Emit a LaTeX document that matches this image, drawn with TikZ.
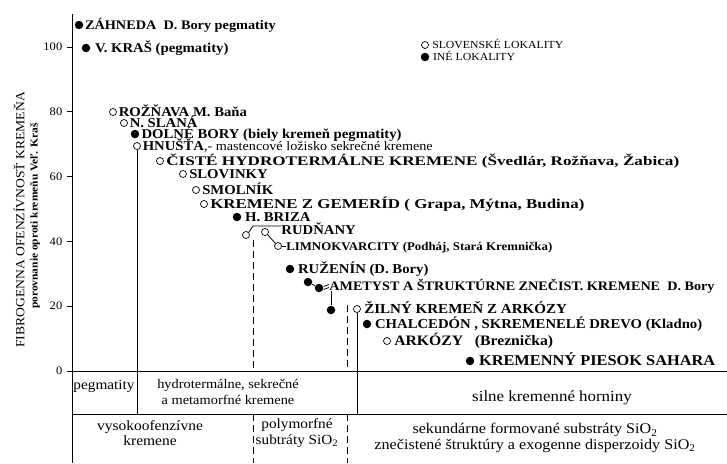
\documentclass[tikz,border=0pt]{standalone}
\usepackage{graphicx}
\usepackage{fontspec}
\setmainfont{Liberation Serif}[FakeStretch=1.09]
\usetikzlibrary{positioning}
\tikzset{
  slov/.style={circle,draw,line width=0.7pt,fill=white,inner sep=0pt,minimum size=7pt},
  ine/.style={circle,fill,inner sep=0pt,minimum size=8.5pt},
  lab/.style={inner sep=0pt,text height=9pt,text depth=0pt,font=\bfseries\fontsize{#1}{16}\selectfont},
  lab/.default=13.5,
  tab/.style={align=center,inner sep=0pt,font=\fontsize{#1}{15.5}\selectfont},
  tab/.default=14.5,
  rez/.style={dash pattern=on 7pt off 4pt,line width=0.7pt},
}
\begin{document}
\begin{tikzpicture}[x=1pt,y=-1pt,line width=0.8pt]
  \useasboundingbox (0,0) rectangle (727,463);
  % os a popis
  \draw[line width=1pt] (72,14) -- (72,463);
  \foreach \v in {20,40,...,100}
    \draw (67,{371-3.24*\v}) node[left=1pt,font=\fontsize{11.5}{12}\selectfont] (t\v) {\v} -- (72,{371-3.24*\v});
  \node[rotate=90,font=\fontsize{12.5}{13}\selectfont] (titul) at (19,220) {FIBROGENNA OFENZÍVNOSŤ KREMEŇA};
  \node[rotate=90,font=\bfseries\fontsize{10.5}{12}\selectfont] (podtitul) at (35,216) {porovnanie oproti kremeňu Veľ. Kraš};
  % lokality
  \node[ine] (zahneda) at (79,25) {};
  \node[lab=13.1,right=1pt of zahneda] (zahneda-t) {ZÁHNEDA\ \ D. Bory pegmatity};
  \node[ine] (kras) at (86,48) {};
  \node[lab,right=4pt of kras] (kras-t) {V. KRAŠ (pegmatity)};
  \node[slov] (roznava) at (113,112) {};
  \node[lab,right=1.5pt of roznava] (roznava-t) {ROŽŇAVA M. Baňa};
  \node[slov] (slana) at (124,123) {};
  \node[lab,right=1.5pt of slana] (slana-t) {N. SLANÁ};
  \node[ine] (dolne) at (135,134) {};
  \node[lab,right=1.5pt of dolne] (dolne-t) {DOLNÉ BORY (biely kremeň pegmatity)};
  \node[slov] (hnusta) at (137,146) {};
  \node[lab,right=1.5pt of hnusta] (hnusta-t) {HNUŠŤA{\mdseries\fontsize{13}{14}\selectfont,- mastencové ložisko sekrečné kremene}};
  \node[slov] (ciste) at (160,161) {};
  \node[lab=13.1,right=2pt of ciste] (ciste-t) {\scalebox{1.2}[1]{ČISTÉ HYDROTERMÁLNE KREMENE (Švedlár, Rožňava, Žabica)}};
  \node[slov] (slovinky) at (183,174) {};
  \node[lab,right=2pt of slovinky] (slovinky-t) {SLOVINKY};
  \node[slov] (smolnik) at (196,190) {};
  \node[lab,right=2pt of smolnik] (smolnik-t) {SMOLNÍK};
  \node[slov] (gemer) at (204,204) {};
  \node[lab,right=2pt of gemer] (gemer-t) {\scalebox{1.15}[1]{KREMENE Z GEMERÍD ( Grapa, Mýtna, Budina)}};
  \node[ine] (briza) at (237,217) {};
  \node[lab,right=3pt of briza] (briza-t) {H. BRIZA};
  \node[slov] (rud1) at (246,235) {};
  \node[slov] (rud2) at (265,232) {};
  \node[lab,anchor=west] (rud-t) at (281,230) {RUDŇANY};
  \node[slov] (limno) at (278,246) {};
  \node[lab=11.8,right=4pt of limno] (limno-t) {LIMNOKVARCITY (Podháj, Stará Kremnička)};
  \node[ine] (ruzenin) at (290,269) {};
  \node[lab,right=3pt of ruzenin] (ruzenin-t) {RUŽENÍN (D. Bory)};
  \node[ine] (amet1) at (308,282) {};
  \node[ine] (amet2) at (319,288) {};
  \node[lab=13,anchor=west] (amet-t) at (329,286) {AMETYST A ŠTRUKTÚRNE ZNEČIST. KREMENE\ \ D. Bory};
  \node[ine] (amet3) at (331,310) {};
  \node[slov] (zilny) at (357,309) {};
  \node[lab=13.8,right=3pt of zilny] (zilny-t) {ŽILNÝ KREMEŇ Z ARKÓZY};
  \node[ine] (chalc) at (367,324) {};
  \node[lab=13.5,right=3pt of chalc] (chalc-t) {CHALCEDÓN , SKREMENELÉ DREVO (Kladno)};
  \node[slov] (arkozy) at (387,341) {};
  \node[lab=14.4,right=3pt of arkozy] (arkozy-t) {ARKÓZY\ \ \ (Breznička)};
  \node[ine] (sahara) at (470,361) {};
  \node[lab=15,right=4pt of sahara] (sahara-t) {KREMENNÝ PIESOK SAHARA};
  % spojnice
  \coordinate (rudk) at (253,226);
  \draw (rud1.north east) -- (rudk) -- (rudk -| rud-t.west);
  \draw (rud2.south east) -- (limno.north west);
  \draw (limno.east) -- (limno-t.west);
  \draw (amet1) -- (amet2);
  \draw ([yshift=1.5pt]amet2.east) -- ([yshift=1.5pt]amet-t.west);
  \draw ([yshift=-1.5pt]amet2.east) -- ([yshift=-1.5pt]amet-t.west);
  \draw (amet3.north) -- (amet3 |- amet-t.south);
  % legenda
  \node[slov] (leg-s) at (425,45) {};
  \node[lab,right=3pt of leg-s,text height=7pt,font=\fontsize{10.8}{11}\selectfont] (leg-s-t) {SLOVENSKÉ LOKALITY};
  \node[ine] (leg-i) at (425,57) {};
  \node[lab,right=3pt of leg-i,text height=7pt,font=\fontsize{10.8}{11}\selectfont] (leg-i-t) {INÉ LOKALITY};
  % tabulka
  \coordinate (nula) at (67,371);
  \coordinate (riadok) at (72,414);
  \coordinate (spodok) at (72,463);
  \coordinate (pol) at (347,305);
  \draw (nula) node[left=1pt,font=\fontsize{11.5}{12}\selectfont] (t0) {0} -- (727,371);
  \draw (riadok) -- (727,414);
  \draw (hnusta.south) -- (hnusta.south |- riadok);
  \draw (zilny.south) -- (zilny.south |- riadok);
  \draw[rez] ([yshift=-14pt]rudk) -- (rudk |- nula);
  \draw[rez] (rudk |- riadok) -- (rudk |- spodok);
  \draw[rez] (pol) -- (pol |- nula);
  \draw[rez] (pol |- riadok) -- (pol |- spodok);
  \node[tab=14] (peg) at (104,386) {pegmatity};
  \node[tab=13.2] (hydro) at (228,392) {hydrotermálne, sekrečné\\a metamorfné kremene};
  \node[tab=15.5] (silne) at (552,398) {silne kremenné horniny};
  \node[tab=14.2] (vysoko) at (150,433) {vysokoofenzívne\\kremene};
  \node[tab=14] (poly) at (297,433) {polymorfné\\subtráty SiO\textsubscript{2}};
  \node[tab=14.8] (sekund) at (535,438) {sekundárne formované substráty SiO\textsubscript{2}\\znečistené štruktúry a exogenne disperzoidy SiO\textsubscript{2}};
\end{tikzpicture}
\end{document}
